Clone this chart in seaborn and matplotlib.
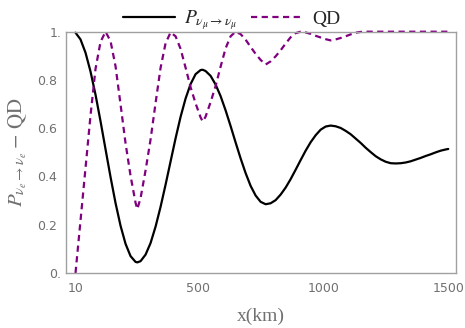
import matplotlib
matplotlib.use("Agg")
import matplotlib.pyplot as plt
import matplotlib.transforms as mtransforms
import seaborn as sns
import pandas as pd
from matplotlib.lines import Line2D

# ---- data ----
x_km = [10, 30, 50, 70, 90, 110, 130, 150, 170, 190, 210, 230, 250, 257, 270, 290,
        310, 330, 350, 370, 390, 410, 430, 450, 470, 490, 510, 515, 519, 530, 550, 570,
        590, 610, 630, 650, 670, 690, 710, 730, 750, 770, 790, 810, 830, 850,
        870, 890, 910, 930, 950, 970, 990, 1010, 1030, 1050, 1070, 1090, 1110,
        1130, 1150, 1170, 1190, 1210, 1230, 1250, 1270, 1290, 1310, 1330, 1350,
        1370, 1390, 1410, 1430, 1450, 1470, 1490, 1500]

p_mumu = [0.996, 0.968, 0.913, 0.835, 0.739, 0.629, 0.513, 0.398, 0.290, 0.196,
          0.121, 0.070, 0.046, 0.044, 0.049, 0.076, 0.124, 0.192, 0.274, 0.366, 0.462,
          0.558, 0.647, 0.723, 0.783, 0.824, 0.841, 0.842, 0.842, 0.837, 0.817, 0.781,
          0.733, 0.674, 0.609, 0.541, 0.475, 0.414, 0.361, 0.321, 0.295, 0.285, 0.289,
          0.302, 0.325, 0.354, 0.389, 0.428, 0.468, 0.507, 0.542, 0.571, 0.594,
          0.607, 0.611, 0.608, 0.601, 0.589, 0.575, 0.557, 0.539, 0.519, 0.501,
          0.484, 0.471, 0.461, 0.455, 0.454, 0.455, 0.458, 0.463, 0.470, 0.477,
          0.485, 0.492, 0.500, 0.507, 0.512, 0.514]

qd = [0.000, 0.217, 0.435, 0.653, 0.846, 0.958, 1.000, 0.961, 0.857, 0.699,
      0.538, 0.403, 0.291, 0.265, 0.310, 0.425, 0.553, 0.704, 0.850, 0.952, 0.997,
      0.981, 0.929, 0.851, 0.770, 0.703, 0.645, 0.635, 0.628, 0.648, 0.708, 0.775,
      0.855, 0.931, 0.981, 1.000, 0.990, 0.967, 0.937, 0.908, 0.883, 0.864, 0.877,
      0.898, 0.923, 0.951, 0.977, 0.994, 1.000, 0.997, 0.991, 0.983, 0.976,
      0.969, 0.964, 0.968, 0.974, 0.981, 0.989, 0.996, 0.999, 1.000, 1.000,
      1.000, 1.000, 1.000, 1.000, 1.000, 1.000, 1.000, 1.000, 1.000, 1.000,
      1.000, 1.000, 1.000, 1.000, 1.000, 1.000]

x_ticks = [10, 500, 1000, 1500]
x_tick_labels = ["10", "500", "1000", "1500"]
y_ticks = [0, 0.2, 0.4, 0.6, 0.8, 1.0]
y_tick_labels = ["0.", "0.2", "0.4", "0.6", "0.8", "1."]

df = pd.DataFrame({"x": x_km, "P": p_mumu, "QD": qd})

sns.set_theme(style="white")
plt.rcParams["font.family"] = ["DejaVu Sans"]
plt.rcParams["mathtext.fontset"] = "stix"

W, H = 465, 328
fig = plt.figure(figsize=(W / 100, H / 100), dpi=100)
left, right, top, bottom = 65.5, 456, 31.7, 273
ax = fig.add_axes([left / W, 1 - bottom / H, (right - left) / W, (bottom - top) / H])

purple = "#800080"
sns.lineplot(data=df, x="x", y="P", ax=ax, color="black", lw=1.6, sort=False,
             clip_on=False, legend=False)
sns.lineplot(data=df, x="x", y="QD", ax=ax, color=purple, lw=1.6, sort=False,
             clip_on=False, legend=False)
for ln in ax.lines:
    ln.set_solid_joinstyle("round")
    ln.set_dash_joinstyle("round")
ax.lines[1].set_dashes((2.8, 2.0))

ax.set_xlim(-30, 1531)
ax.set_ylim(0, 1)
ax.set_xticks(x_ticks)
ax.set_xticklabels(x_tick_labels)
ax.set_yticks(y_ticks)
ax.set_yticklabels(y_tick_labels)

gray = "#707070"
for s in ax.spines.values():
    s.set_color("#a0a0a0")
    s.set_linewidth(1.0)
ax.tick_params(axis="both", direction="in", length=4, width=0.8, color="#a0a0a0",
               labelcolor=gray, labelsize=9)
ax.tick_params(axis="x", pad=6.5)
ax.tick_params(axis="y", pad=6.0)

# Mathematica-style: the short labels "0." and "1." sit closer to the frame
shift = mtransforms.ScaledTranslation(4 / 100, 0, fig.dpi_scale_trans)
for tick in ax.yaxis.get_major_ticks():
    if tick.label1.get_text() in ("0.", "1."):
        tick.label1.set_transform(tick.label1.get_transform() + shift)

ax.set_xlabel("x(km)", fontsize=14, color=gray, family="Liberation Serif", labelpad=9)
ax.set_ylabel(r"$P_{\nu_e\rightarrow\nu_e}-\,\mathrm{QD}$", fontsize=15, color=gray,
              labelpad=6)

handles = [Line2D([], [], color="black", lw=1.6),
           Line2D([], [], color=purple, lw=1.6, dashes=(2.8, 2.0))]
labels = [r"$P_{\nu_\mu\rightarrow\nu_\mu}$", "QD"]
ax.legend(handles, labels, loc="center", bbox_to_anchor=(0.425, 1.047), ncol=2,
          frameon=False, handlelength=2.7, handletextpad=0.45, columnspacing=0.7,
          borderaxespad=0, borderpad=0,
          prop={"family": "Liberation Serif", "size": 14})

fig.savefig("out.png", dpi=100)
